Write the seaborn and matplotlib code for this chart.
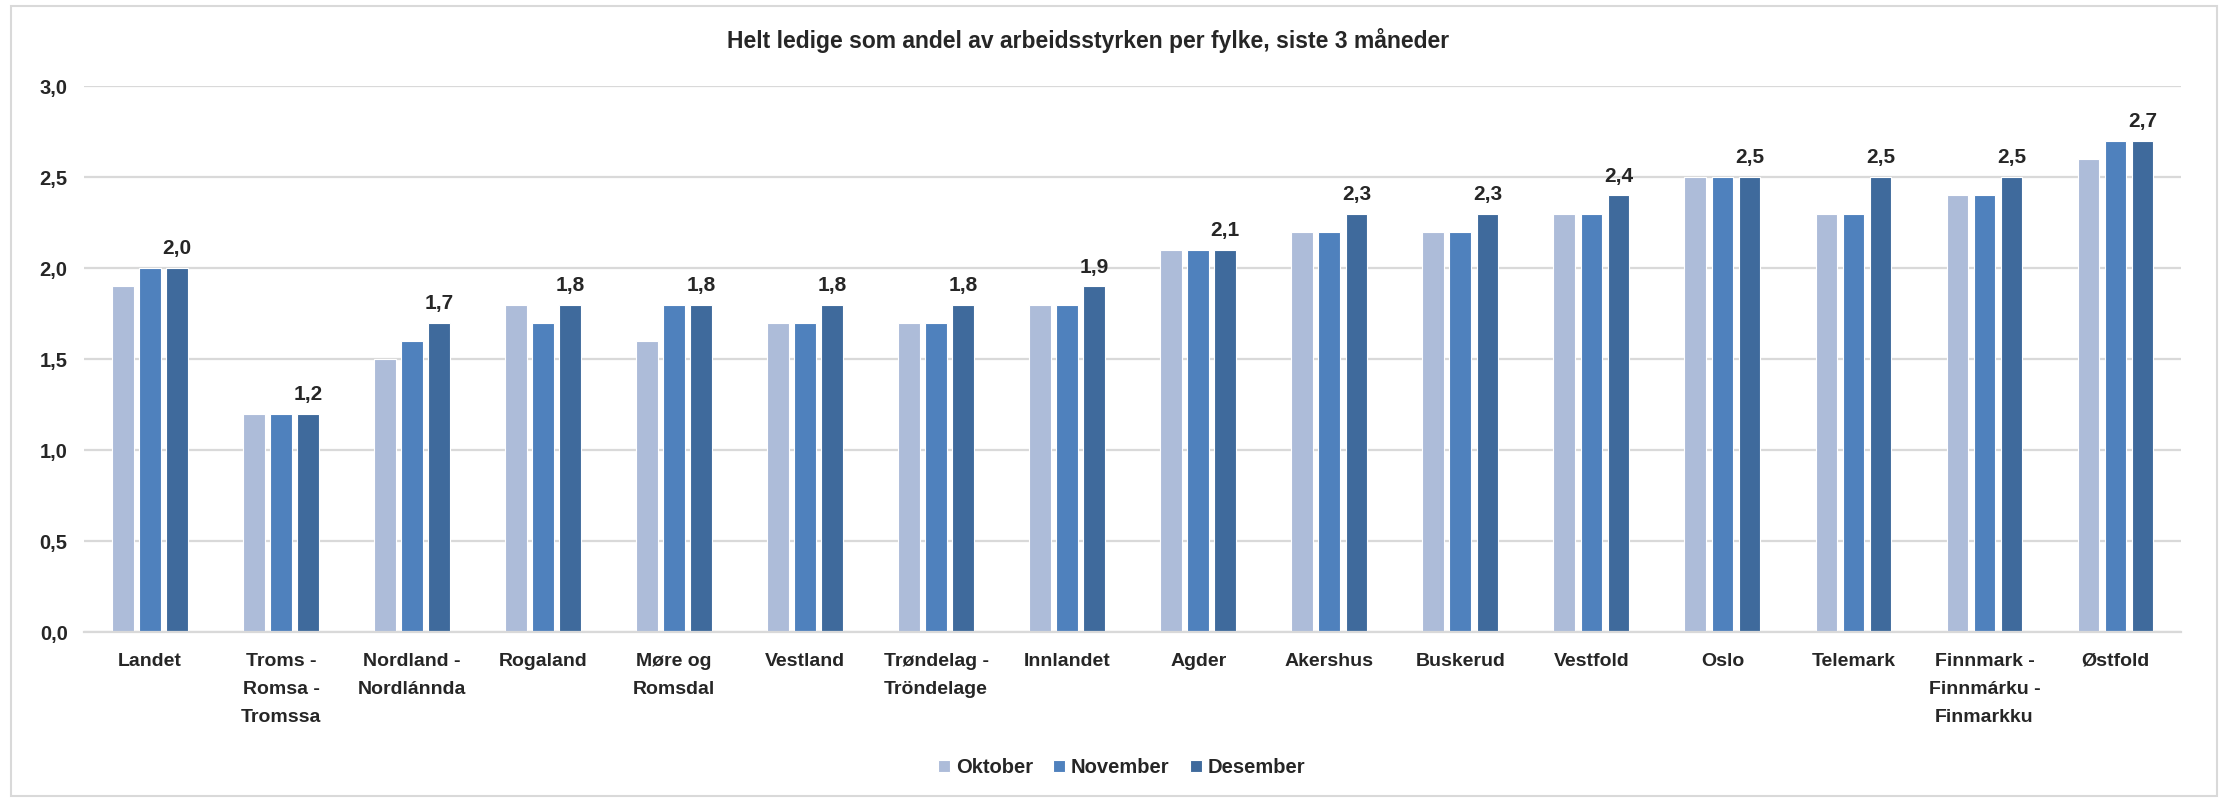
import pandas as pd
import matplotlib.pyplot as plt
import seaborn as sns
from matplotlib.patches import Rectangle

# Chart data
fylker = ['Landet', 'Troms -\nRomsa -\nTromssa', 'Nordland -\nNordlánnda', 'Rogaland',
          'Møre og\nRomsdal', 'Vestland', 'Trøndelag -\nTröndelage', 'Innlandet', 'Agder',
          'Akershus', 'Buskerud', 'Vestfold', 'Oslo', 'Telemark',
          'Finnmark -\nFinnmárku -\nFinmarkku', 'Østfold']
oktober = [1.9, 1.2, 1.5, 1.8, 1.6, 1.7, 1.7, 1.8, 2.1, 2.2, 2.2, 2.3, 2.5, 2.3, 2.4, 2.6]
november = [2.0, 1.2, 1.6, 1.7, 1.8, 1.7, 1.7, 1.8, 2.1, 2.2, 2.2, 2.3, 2.5, 2.3, 2.4, 2.7]
desember = [2.0, 1.2, 1.7, 1.8, 1.8, 1.8, 1.8, 1.9, 2.1, 2.3, 2.3, 2.4, 2.5, 2.5, 2.5, 2.7]
maaneder = ['Oktober', 'November', 'Desember']
farger = ['#ADBCD9', '#4F81BD', '#3F6A9C']

df = pd.DataFrame({
    'fylke': fylker * 3,
    'maaned': [m for m in maaneder for _ in fylker],
    'verdi': oktober + november + desember,
})

sns.set_style('white')
plt.rcParams['font.family'] = ['Liberation Sans', 'DejaVu Sans']
plt.rcParams['font.weight'] = 'bold'

fig = plt.figure(figsize=(22.21, 7.98), dpi=100)
ax = fig.add_axes([0.038, 0.208, 0.944, 0.684])

sns.barplot(data=df, x='fylke', y='verdi', hue='maaned', palette=farger,
            saturation=1, width=0.62, gap=0.2, edgecolor='white', linewidth=0.8,
            ax=ax, legend=True)

# labels on the Desember bars only
ax.bar_label(ax.containers[2], labels=[f'{v:.1f}'.replace('.', ',') for v in desember],
             padding=7, fontsize=15, fontweight='bold')

ax.set_ylim(0, 3.0)
ax.set_yticks([0, 0.5, 1.0, 1.5, 2.0, 2.5, 3.0])
ax.set_yticklabels([f'{t:.1f}'.replace('.', ',') for t in ax.get_yticks()],
                   fontsize=14.5, fontweight='bold')
ax.set_xlim(-0.5, len(fylker) - 0.5)
ax.set_xticks(range(len(fylker)))
ax.set_xticklabels(fylker, fontsize=14, fontweight='bold', linespacing=1.85, va='top')
ax.tick_params(axis='x', length=0, pad=15)
ax.tick_params(axis='y', length=0, pad=12)
ax.set_xlabel('')
ax.set_ylabel('')
ax.yaxis.grid(True, color='#D9D9D9', linewidth=1.6)
ax.set_axisbelow(True)
for s in ['top', 'right', 'left']:
    ax.spines[s].set_visible(False)
ax.spines['bottom'].set_color('#D9D9D9')
ax.spines['bottom'].set_linewidth(1.6)

leg = ax.legend(loc='center', bbox_to_anchor=(0.505, 0.038), bbox_transform=fig.transFigure,
                ncol=3, frameon=False, fontsize=14.5, handlelength=0.6, handleheight=0.6,
                handletextpad=0.3, columnspacing=1.0)
for t in leg.get_texts():
    t.set_fontweight('bold')

fig.text(0.49, 0.949, 'Helt ledige som andel av arbeidsstyrken per fylke, siste 3 måneder',
         ha='center', va='center', fontsize=16.5, fontweight='bold')

# outer chart frame
fig.patches.append(Rectangle((0.005, 0.003), 0.993, 0.99, transform=fig.transFigure,
                             fill=False, edgecolor='#D9D9D9', linewidth=1.5))

plt.savefig('out.png', dpi=100)
